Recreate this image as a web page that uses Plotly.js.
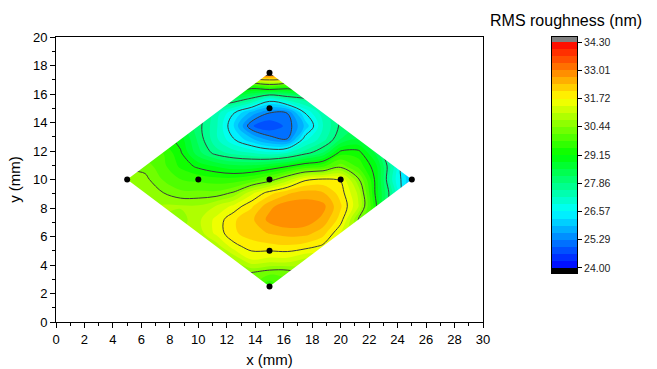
<!DOCTYPE html>
<html>
<head>
<meta charset="utf-8">
<script src="https://cdn.plot.ly/plotly-3.0.1.min.js"></script>
<style>
  html, body { margin: 0; padding: 0; background: #ffffff; }
  #chart { width: 657px; height: 369px; }
</style>
</head>
<body>
<div id="chart"></div>
<script>
// Measurement positions (mm)
const sampleX = [5, 10, 15, 20, 25, 15, 15, 15, 15];
const sampleY = [10, 10, 10, 10, 10, 2.5, 5, 15, 17.5];

// Interpolation grid (mm)
const gridX = [5, 6.25, 7.5, 8.75, 10, 11.25, 12.5, 13.75, 15, 16.25, 17.5, 18.75, 20, 21.25, 22.5, 23.75, 25];
const gridY = [2.5, 3.4375, 4.375, 5.3125, 6.25, 7.1875, 8.125, 9.0625, 10, 10.9375, 11.875, 12.8125, 13.75, 14.6875, 15.625, 16.5625, 17.5];

// RMS roughness (nm); one row per gridY value, null where the surface is not defined
const n = null;
const roughness = [
  [n, n, n, n, n, n, n, n, 29.5, n, n, n, n, n, n, n, n],
  [n, n, n, n, n, n, n, 30.4, 30.2, 30.2, n, n, n, n, n, n, n],
  [n, n, n, n, n, n, 30.8, 31.4, 31.3, 31.3, 31.0, n, n, n, n, n, n],
  [n, n, n, n, n, 30.9, 31.6, 31.9, 31.95, 32.0, 31.9, 31.65, n, n, n, n, n],
  [n, n, n, n, 30.9, 31.5, 32.0, 32.2, 32.4, 32.5, 32.5, 32.2, 31.4, n, n, n, n],
  [n, n, n, 30.6, 31.0, 31.5, 32.0, 32.3, 32.8, 33.0, 32.9, 32.6, 31.9, 30.4, n, n, n],
  [n, n, 30.8, 30.8, 30.8, 31.1, 31.5, 32.0, 32.6, 32.9, 32.9, 32.8, 32.1, 31.1, 29.2, 27.3, n],
  [n, 30.7, 30.45, 30.2, 30.2, 30.2, 30.5, 31.3, 31.9, 32.3, 32.5, 32.4, 31.9, 31.0, 29.0, 27.4, 25.7],
  [30.7, 30.55, 30.1, 29.8, 29.7, 29.6, 29.6, 29.8, 30.2, 30.9, 31.65, 31.8, 31.7, 30.5, 29.0, 27.0, 25.9],
  [n, 30.3, 29.9, 29.4, 29.05, 28.8, 28.6, 28.6, 28.8, 29.1, 29.5, 29.7, 30.3, 29.7, 28.9, 27.2, 25.6],
  [n, n, 29.8, 29.2, 28.3, 27.7, 27.4, 27.2, 27.0, 27.2, 27.7, 28.2, 29.3, 29.3, 28.4, 27.0, n],
  [n, n, n, 29.0, 28.1, 27.3, 26.6, 26.0, 25.5, 25.3, 26.8, 27.4, 28.2, 28.5, n, n, n],
  [n, n, n, n, 28.0, 27.3, 26.2, 25.0, 24.7, 25.05, 26.0, 27.2, 27.95, n, n, n, n],
  [n, n, n, n, n, 27.4, 26.6, 25.8, 25.3, 25.3, 26.6, 27.4, n, n, n, n, n],
  [n, n, n, n, n, n, 28.2, 27.7, 26.8, 27.4, 27.7, n, n, n, n, n, n],
  [n, n, n, n, n, n, 29.8, 29.5, 30.0, 29.6, 29.8, n, n, n, n, n, n],
  [n, n, n, n, n, n, n, 33.4, 33.8, 33.4, n, n, n, n, n, n, n]
];

// Colour scale: level range, major levels (labelled), fill levels per major step
const levelMin = 24.0;
const levelMax = 34.3;
const majorLevels = [24.00, 25.29, 26.57, 27.86, 29.15, 30.44, 31.72, 33.01, 34.30];
const fillPerMajor = 4;
const paletteStops = ['#0000ff', '#00ffff', '#00ff00', '#ffff00', '#ff0000'];
const belowColor = '#000000';
const aboveColor = '#808080';

const majorStep = (levelMax - levelMin) / (majorLevels.length - 1);
const fillStep = majorStep / fillPerMajor;
const nFill = Math.round((levelMax - levelMin) / fillStep);

// Plotly maps contour fill colours over [start - step/2, end + step/2]
const cLo = levelMin - fillStep / 2;
const cHi = levelMax + fillStep / 2;
const frac = v => (v - cLo) / (cHi - cLo);
const colorscale = [[0, belowColor], [frac(levelMin), belowColor]];
paletteStops.forEach((c, i) => {
  colorscale.push([frac(levelMin + (levelMax - levelMin) * i / (paletteStops.length - 1)), c]);
});
colorscale.push([frac(levelMax), aboveColor], [1, aboveColor]);

const font = 'Liberation Sans, Arial, Helvetica, sans-serif';

// Filled bands
const fillTrace = {
  type: 'contour', x: gridX, y: gridY, z: roughness,
  connectgaps: true, autocontour: false,
  contours: { start: levelMin, end: levelMax, size: fillStep, coloring: 'fill', showlines: false },
  line: { width: 0 },
  colorscale: colorscale, showscale: false, hoverinfo: 'skip'
};

// Contour lines at the major levels
const lineTrace = {
  type: 'contour', x: gridX, y: gridY, z: roughness,
  connectgaps: true, autocontour: false,
  contours: { start: levelMin, end: levelMax, size: majorStep, coloring: 'none' },
  line: { color: '#3a3a3a', width: 1 },
  showscale: false, hoverinfo: 'skip'
};

// White cover outside the diamond-shaped sampled area
const xL = Math.min(...sampleX), xR = Math.max(...sampleX);
const yB = Math.min(...sampleY), yT = Math.max(...sampleY);
const xC = (xL + xR) / 2, yC = (yB + yT) / 2;
const pad = 0.6;
const maskTrace = {
  type: 'scatter', mode: 'lines', fill: 'toself', fillcolor: '#ffffff',
  line: { width: 0, color: '#ffffff' }, hoverinfo: 'skip',
  x: [xL, xC, xR, xC, xL, xL - pad, xL - pad, xR + pad, xR + pad, xL - pad, xL - pad, xL],
  y: [yC, yT, yC, yB, yC, yC, yB - pad, yB - pad, yT + pad, yT + pad, yC, yC]
};

// Measurement points
const pointTrace = {
  type: 'scatter', mode: 'markers', x: sampleX, y: sampleY,
  marker: { color: '#000000', size: 6 }, hoverinfo: 'skip'
};

// Colour bar drawn as a one-column heatmap of the band colours
const barEdges = [levelMin - 0.23];
const barValues = [[cLo]];
for (let k = 0; k <= nFill; k++) barEdges.push(levelMin + k * fillStep);
for (let k = 0; k < nFill; k++) barValues.push([levelMin + (k + 0.5) * fillStep]);
barEdges.push(levelMax + 0.23);
barValues.push([cHi]);

const barTrace = {
  type: 'heatmap', xaxis: 'x2', yaxis: 'y2',
  x: [0, 1], y: barEdges, z: barValues,
  zmin: cLo, zmax: cHi, colorscale: colorscale,
  showscale: false, hoverinfo: 'skip'
};

const axisCommon = {
  ticks: 'outside', ticklen: 5, tickwidth: 1, tickcolor: '#000',
  showline: true, linecolor: '#000', linewidth: 1, mirror: true,
  showgrid: false, zeroline: false,
  tickfont: { family: font, size: 13, color: '#000' }
};

const layout = {
  width: 657, height: 369,
  margin: { l: 56, r: 80, t: 37, b: 47, pad: 0 },
  paper_bgcolor: '#ffffff', plot_bgcolor: '#ffffff',
  font: { family: font, color: '#000' },
  showlegend: false,
  xaxis: Object.assign({}, axisCommon, {
    domain: [0, 427 / 521], range: [0, 30], tick0: 0, dtick: 2,
    minor: { dtick: 1, ticks: 'outside', ticklen: 3, tickcolor: '#000', showgrid: false },
    title: { text: 'x (mm)', font: { family: font, size: 15 }, standoff: 8 }
  }),
  yaxis: Object.assign({}, axisCommon, {
    domain: [0, 1], range: [0, 20], tick0: 0, dtick: 2,
    minor: { dtick: 1, ticks: 'outside', ticklen: 3, tickcolor: '#000', showgrid: false },
    title: { text: 'y (mm)', font: { family: font, size: 15 }, standoff: 8 }
  }),
  xaxis2: {
    domain: [496 / 521, 1], range: [0, 1], anchor: 'y2',
    showticklabels: false, ticks: '', showline: true, mirror: true,
    linecolor: '#000', linewidth: 1, showgrid: false, zeroline: false, fixedrange: true
  },
  yaxis2: {
    domain: [49 / 285, 1], range: [levelMin - 0.23, levelMax + 0.23], anchor: 'x2', side: 'right',
    tickmode: 'array', tickvals: majorLevels, ticktext: majorLevels.map(v => v.toFixed(2)),
    ticks: 'outside', ticklen: 4, tickwidth: 1, tickcolor: '#000',
    showline: true, mirror: true, linecolor: '#000', linewidth: 1,
    showgrid: false, zeroline: false, fixedrange: true,
    tickfont: { family: font, size: 10.5, color: '#222' }
  },
  annotations: [{
    text: 'RMS roughness (nm)', xref: 'paper', yref: 'paper',
    x: 510 / 521, y: 302 / 285, xanchor: 'center', yanchor: 'middle',
    showarrow: false, font: { family: font, size: 16, color: '#000' }
  }]
};

Plotly.newPlot('chart', [fillTrace, lineTrace, maskTrace, pointTrace, barTrace], layout,
  { staticPlot: true, displayModeBar: false });
</script>
</body>
</html>
